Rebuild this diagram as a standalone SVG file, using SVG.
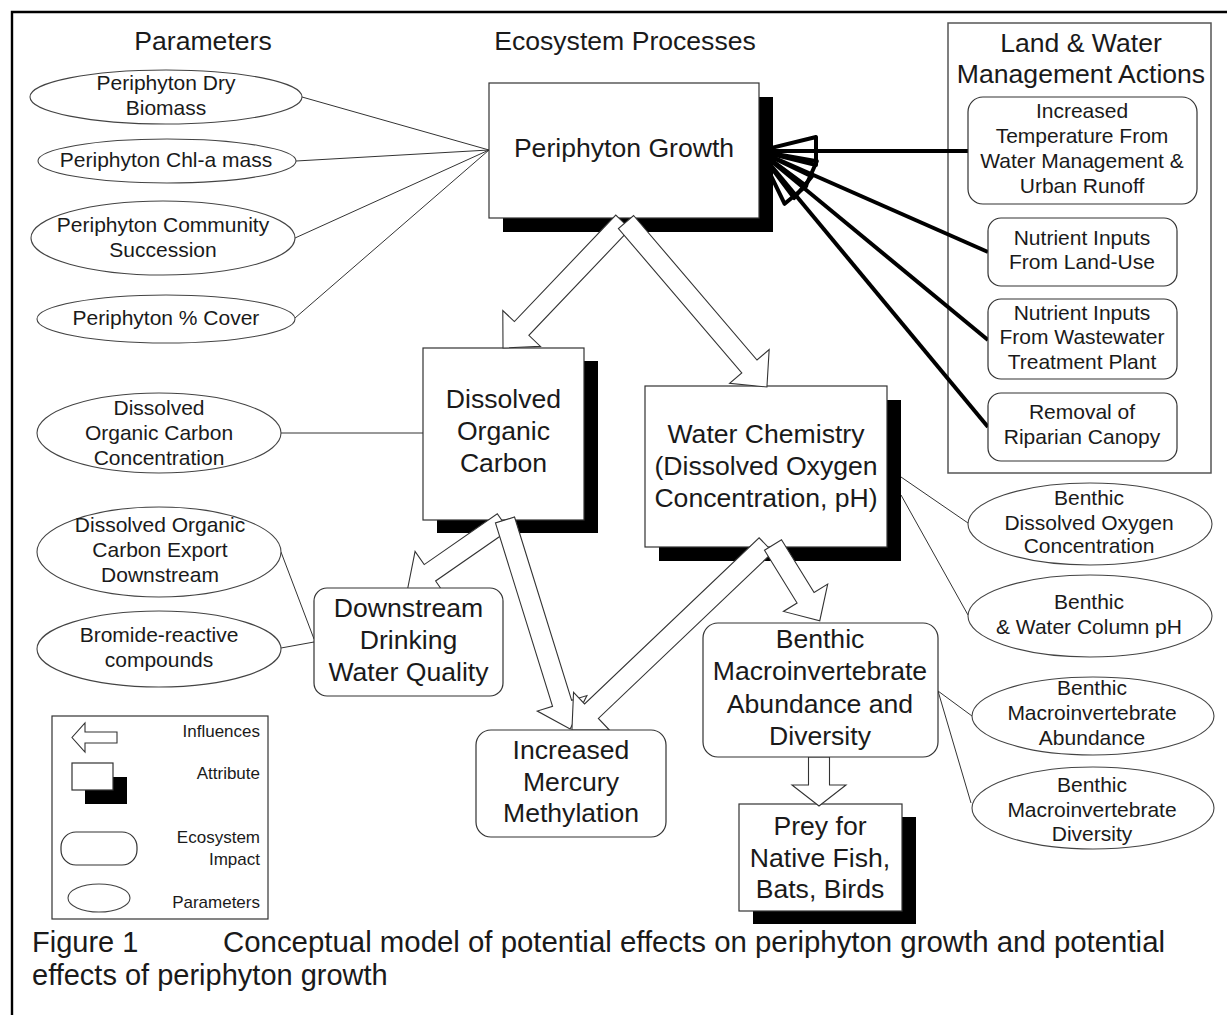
<svg xmlns="http://www.w3.org/2000/svg" width="1227" height="1015" viewBox="0 0 1227 1015">
<defs>
<style>
text{font-family:"Liberation Sans",Arial,sans-serif;fill:#1a1a1a}
.h{font-size:26.6px;text-anchor:middle}
.p{font-size:26.6px;text-anchor:middle}
.s{font-size:21px;text-anchor:middle}
.lg{font-size:17px;text-anchor:end}
.cap{font-size:29px}
.box{fill:#fff;stroke:#333;stroke-width:1.2}
.sh{fill:#000}
.ell{fill:#fff;stroke:#444;stroke-width:1.1}
.thin{stroke:#333;stroke-width:1;fill:none}
.thick{stroke:#000;stroke-width:4;fill:none}
.blk{fill:#fff;stroke:#333;stroke-width:1.1;stroke-linejoin:miter}
</style>
<marker id="openHead" viewBox="-62 -18 66 36" markerWidth="66" markerHeight="36" refX="0" refY="0" markerUnits="userSpaceOnUse" orient="auto">
<path d="M-57,-14 L0,0 L-57,14 Z" fill="none" stroke="#000" stroke-width="4" stroke-linejoin="round"/>
</marker>
</defs>
<rect width="1227" height="1015" fill="#fff"/>
<!-- frame -->
<path d="M12,1015 V12 H1227" fill="none" stroke="#000" stroke-width="2.4"/>

<!-- headers -->
<text class="h" x="203" y="50">Parameters</text>
<text class="h" x="625" y="50">Ecosystem Processes</text>

<g id="mgmt-container">
<rect x="948" y="23" width="263" height="450" fill="none" stroke="#555" stroke-width="1.5"/>
<text class="h" x="1081" y="52">Land &amp; Water</text>
<text class="h" x="1081" y="83">Management Actions</text>
</g>

<!-- connectors -->
<g id="connectors">
<line class="thin" x1="302" y1="97" x2="489" y2="150"/>
<line class="thin" x1="296" y1="161" x2="489" y2="150"/>
<line class="thin" x1="295" y1="238" x2="489" y2="150"/>
<line class="thin" x1="295" y1="318" x2="489" y2="150"/>
<line class="thin" x1="281" y1="433" x2="423" y2="433"/>
<line class="thin" x1="281" y1="552" x2="314" y2="639"/>
<line class="thin" x1="281" y1="648" x2="314" y2="642"/>
<line class="thin" x1="901" y1="477" x2="968" y2="523"/>
<line class="thin" x1="901" y1="495" x2="968" y2="615"/>
<line class="thin" x1="938" y1="691" x2="972" y2="716"/>
<line class="thin" x1="938" y1="691" x2="971" y2="803"/>
<line class="thick" x1="968" y1="151" x2="759" y2="151" marker-end="url(#openHead)"/>
<line class="thick" x1="988" y1="252" x2="759" y2="151" marker-end="url(#openHead)"/>
<line class="thick" x1="988" y1="340" x2="759" y2="151" marker-end="url(#openHead)"/>
<line class="thick" x1="988" y1="427" x2="759" y2="151" marker-end="url(#openHead)"/>
</g>

<!-- process nodes -->
<g id="periphyton-growth">
<rect class="sh" x="503" y="97" width="270" height="135"/>
<rect class="box" x="489" y="83" width="270" height="135"/>
<text class="p" x="624" y="157">Periphyton Growth</text>
</g>
<g id="doc">
<rect class="sh" x="437" y="361" width="161" height="172"/>
<rect class="box" x="423" y="348" width="161" height="172"/>
<text class="p" x="503.5" y="408">Dissolved</text>
<text class="p" x="503.5" y="440">Organic</text>
<text class="p" x="503.5" y="472">Carbon</text>
</g>
<g id="water-chemistry">
<rect class="sh" x="659" y="400" width="242" height="161"/>
<rect class="box" x="645" y="386" width="242" height="161"/>
<text class="p" x="766" y="443">Water Chemistry</text>
<text class="p" x="766" y="475">(Dissolved Oxygen</text>
<text class="p" x="766" y="507">Concentration, pH)</text>
</g>
<g id="prey">
<rect class="sh" x="753" y="817" width="163" height="107"/>
<rect class="box" x="739" y="804" width="163" height="107"/>
<text class="p" x="820" y="835">Prey for</text>
<text class="p" x="820" y="867">Native Fish,</text>
<text class="p" x="820" y="898">Bats, Birds</text>
</g>

<!-- block arrows -->
<g id="influence-arrows">
<path class="blk" d="M0,-10 L147,-10 L147,-26 L174,0 L147,26 L147,10 L0,10 Z" transform="translate(623,222) rotate(133.6)"/>
<path class="blk" d="M0,-10 L190,-10 L190,-26 L217,0 L190,26 L190,10 L0,10 Z" transform="translate(626,222) rotate(49.5)"/>
<path class="blk" d="M0,-10 L89,-10 L89,-26 L116,0 L89,26 L89,10 L0,10 Z" transform="translate(503,522) rotate(145.2)"/>
<path class="blk" d="M0,-10 L192,-10 L192,-26 L219,0 L192,26 L192,10 L0,10 Z" transform="translate(505,520) rotate(72.7)"/>
<path class="blk" d="M0,-10 L241,-10 L241,-26 L268,0 L241,26 L241,10 L0,10 Z" transform="translate(766,545) rotate(136.4)"/>
<path class="blk" d="M0,-10 L62,-10 L62,-26 L89,0 L62,26 L62,10 L0,10 Z" transform="translate(773,545) rotate(58.3)"/>
<path class="blk" d="M808.5,757 L808.5,785 L792,785 L819,806 L846,785 L829.5,785 L829.5,757 Z"/>
</g>

<!-- impact nodes -->
<g id="drinking-water">
<rect class="box" x="314" y="588" width="189" height="108" rx="13"/>
<text class="p" x="408.5" y="617">Downstream</text>
<text class="p" x="408.5" y="649">Drinking</text>
<text class="p" x="408.5" y="681">Water Quality</text>
</g>
<g id="mercury">
<rect class="box" x="476" y="730" width="190" height="107" rx="15"/>
<text class="p" x="571" y="759">Increased</text>
<text class="p" x="571" y="791">Mercury</text>
<text class="p" x="571" y="822">Methylation</text>
</g>
<g id="benthic-macro">
<rect class="box" x="703" y="623" width="235" height="134" rx="15"/>
<text class="p" x="820" y="648">Benthic</text>
<text class="p" x="820" y="680">Macroinvertebrate</text>
<text class="p" x="820" y="713">Abundance and</text>
<text class="p" x="820" y="745">Diversity</text>
</g>

<!-- management actions -->
<g id="mgmt-temperature">
<rect class="box" x="968" y="97" width="229" height="107" rx="15"/>
<text class="s" x="1082" y="118">Increased</text>
<text class="s" x="1082" y="143">Temperature From</text>
<text class="s" x="1082" y="168">Water Management &amp;</text>
<text class="s" x="1082" y="193">Urban Runoff</text>
</g>
<g id="mgmt-landuse">
<rect class="box" x="988" y="218" width="189" height="68" rx="13"/>
<text class="s" x="1082" y="245">Nutrient Inputs</text>
<text class="s" x="1082" y="269">From Land-Use</text>
</g>
<g id="mgmt-wwtp">
<rect class="box" x="988" y="299" width="189" height="80" rx="13"/>
<text class="s" x="1082" y="320">Nutrient Inputs</text>
<text class="s" x="1082" y="344">From Wastewater</text>
<text class="s" x="1082" y="369">Treatment Plant</text>
</g>
<g id="mgmt-canopy">
<rect class="box" x="988" y="393" width="189" height="68" rx="13"/>
<text class="s" x="1082" y="419">Removal of</text>
<text class="s" x="1082" y="444">Riparian Canopy</text>
</g>

<!-- parameters -->
<g id="param-dry-biomass">
<ellipse class="ell" cx="166" cy="97" rx="136" ry="27"/>
<text class="s" x="166" y="90">Periphyton Dry</text>
<text class="s" x="166" y="115">Biomass</text>
</g>
<g id="param-chla">
<ellipse class="ell" cx="167" cy="161" rx="129" ry="22"/>
<text class="s" x="166" y="167">Periphyton Chl-a mass</text>
</g>
<g id="param-community">
<ellipse class="ell" cx="163" cy="238" rx="132" ry="37"/>
<text class="s" x="163" y="232">Periphyton Community</text>
<text class="s" x="163" y="257">Succession</text>
</g>
<g id="param-cover">
<ellipse class="ell" cx="166" cy="319" rx="129" ry="24"/>
<text class="s" x="166" y="325">Periphyton % Cover</text>
</g>
<g id="param-doc-conc">
<ellipse class="ell" cx="159" cy="433" rx="122" ry="40"/>
<text class="s" x="159" y="415">Dissolved</text>
<text class="s" x="159" y="440">Organic Carbon</text>
<text class="s" x="159" y="465">Concentration</text>
</g>
<g id="param-doc-export">
<ellipse class="ell" cx="159" cy="552" rx="122" ry="45"/>
<text class="s" x="160" y="532">Dissolved Organic</text>
<text class="s" x="160" y="557">Carbon Export</text>
<text class="s" x="160" y="582">Downstream</text>
</g>
<g id="param-bromide">
<ellipse class="ell" cx="159" cy="649" rx="122" ry="38"/>
<text class="s" x="159" y="642">Bromide-reactive</text>
<text class="s" x="159" y="667">compounds</text>
</g>
<g id="param-benthic-do">
<ellipse class="ell" cx="1090" cy="524" rx="122" ry="41"/>
<text class="s" x="1089" y="505">Benthic</text>
<text class="s" x="1089" y="530">Dissolved Oxygen</text>
<text class="s" x="1089" y="553">Concentration</text>
</g>
<g id="param-benthic-ph">
<ellipse class="ell" cx="1090" cy="616" rx="122" ry="41"/>
<text class="s" x="1089" y="609">Benthic</text>
<text class="s" x="1089" y="634">&amp; Water Column pH</text>
</g>
<g id="param-macro-abundance">
<ellipse class="ell" cx="1093" cy="716" rx="121" ry="39"/>
<text class="s" x="1092" y="695">Benthic</text>
<text class="s" x="1092" y="720">Macroinvertebrate</text>
<text class="s" x="1092" y="745">Abundance</text>
</g>
<g id="param-macro-diversity">
<ellipse class="ell" cx="1093" cy="808" rx="121" ry="41"/>
<text class="s" x="1092" y="792">Benthic</text>
<text class="s" x="1092" y="817">Macroinvertebrate</text>
<text class="s" x="1092" y="841">Diversity</text>
</g>

<!-- legend -->
<g id="legend">
<rect x="52" y="716" width="216" height="203" fill="#fff" stroke="#333" stroke-width="1.2"/>
<path class="blk" d="M117,732 L85,732 L85,723 L72,737.5 L85,752 L85,743 L117,743 Z"/>
<text class="lg" x="260" y="737">Influences</text>
<rect class="sh" x="85" y="777" width="42" height="27"/>
<rect class="box" x="72" y="763" width="41" height="27"/>
<text class="lg" x="260" y="779">Attribute</text>
<rect class="box" x="61" y="832" width="76" height="33" rx="15"/>
<text class="lg" x="260" y="843">Ecosystem</text>
<text class="lg" x="260" y="865">Impact</text>
<ellipse class="ell" cx="99" cy="898" rx="31" ry="14"/>
<text class="lg" x="260" y="908">Parameters</text>
</g>

<!-- caption -->
<g id="caption">
<text class="cap" x="32" y="952">Figure 1</text>
<text class="cap" x="223" y="952" textLength="942" lengthAdjust="spacingAndGlyphs">Conceptual model of potential effects on periphyton growth and potential</text>
<text class="cap" x="32" y="985">effects of periphyton growth</text>
</g>
</svg>
